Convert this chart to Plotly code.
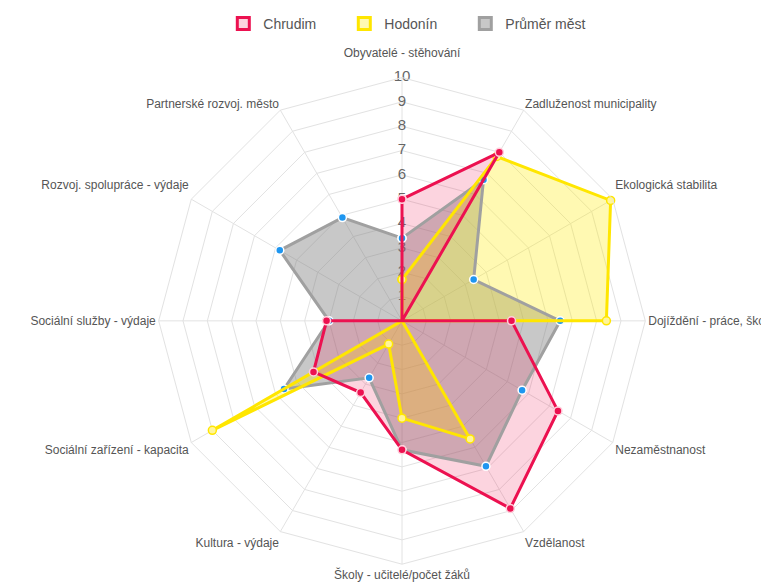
import plotly.graph_objects as go

categories = [
    "Obyvatelé - stěhování",
    "Zadluženost municipality",
    "Ekologická stabilita",
    "Dojíždění - práce, škola",
    "Nezaměstnanost",
    "Vzdělanost",
    "Školy - učitelé/počet žáků",
    "Kultura - výdaje",
    "Sociální zařízení - kapacita",
    "Sociální služby - výdaje",
    "Rozvoj. spolupráce - výdaje",
    "Partnerské rozvoj. město",
]
chrudim = [5.0, 8.0, 0.0, 4.5, 7.4, 8.9, 5.3, 3.4, 4.2, 3.1, 0.0, 0.0]
hodonin = [1.7, 7.8, 9.9, 8.4, 0.0, 5.6, 4.0, 1.1, 9.0, 0.0, 0.0, 0.0]
prumer = [3.4, 6.7, 3.4, 6.5, 5.7, 6.9, 5.3, 2.7, 5.6, 3.0, 5.8, 4.9]
tick_values = [1, 2, 3, 4, 5, 6, 7, 8, 9, 10]

series_names = ["Chrudim", "Hodonín", "Průměr měst"]
series_values = [chrudim, hodonin, prumer]
line_colors = ["#ec1150", "#ffe600", "#a0a0a0"]
fill_colors = ["rgba(236,17,79,0.18)", "rgba(255,235,0,0.3)", "rgba(128,128,128,0.43)"]
marker_fill = ["#ec1150", "#fff59a", "#1e96f0"]
marker_edge = ["#ffd0dc", "#ffe600", "#ffffff"]

FONT = "Liberation Sans, Arial, sans-serif"

def closed(v):
    return list(v) + [v[0]]

theta_c = closed(categories)

# upper labels get an extra empty line so they sit higher above the grid
tick_text = [c + "<br> " if i in (0, 2, 10) else c for i, c in enumerate(categories)]

fig = go.Figure()

# radial tick numbers along the top axis (drawn beneath the data)
fig.add_trace(go.Scatterpolar(
    r=tick_values, theta=[categories[0]] * len(tick_values),
    mode="text", text=[str(v) for v in tick_values],
    textfont=dict(family=FONT, size=15, color="#666666"),
    showlegend=False, hoverinfo="skip",
))

order = [2, 1, 0]  # bottom -> top
# fills first
for i in order:
    fig.add_trace(go.Scatterpolar(
        r=closed(series_values[i]), theta=theta_c, name=series_names[i],
        mode="lines", fill="toself", fillcolor=fill_colors[i],
        line=dict(width=0, color=line_colors[i]),
        showlegend=False, hoverinfo="skip",
    ))
# then lines and points
for i in order:
    fig.add_trace(go.Scatterpolar(
        r=closed(series_values[i]), theta=theta_c, name=series_names[i],
        mode="lines+markers",
        line=dict(color=line_colors[i], width=3),
        marker=dict(size=8, color=marker_fill[i], line=dict(color=marker_edge[i], width=1.5)),
        showlegend=False,
    ))

# legend entries as boxes (shapes placed off-canvas, shown only through the legend)
for n, lc, fc in zip(series_names, line_colors, fill_colors):
    fig.add_shape(
        type="rect", xref="paper", yref="paper", x0=-0.4, x1=-0.39, y0=-0.4, y1=-0.39,
        line=dict(color=lc, width=3), fillcolor=fc,
        showlegend=True, name=n,
    )

W, H = 769, 584
cx, cy, R = 394, 311, 245
fig.update_layout(
    width=W, height=H,
    margin=dict(l=0, r=0, t=0, b=0),
    paper_bgcolor="white",
    font=dict(family=FONT, color="#555555", size=12),
    legend=dict(
        orientation="h", x=0.516, xanchor="center", y=1 - 12 / H, yanchor="middle",
        font=dict(family=FONT, size=14, color="#555555"),
        entrywidth=76,
    ),
    polar=dict(
        domain=dict(x=[(cx - R) / W, (cx + R) / W], y=[1 - (cy + R) / H, 1 - (cy - R) / H]),
        bgcolor="white",
        gridshape="linear",
        radialaxis=dict(
            range=[0, 10], dtick=1, showticklabels=False, ticks="",
            showline=False, gridcolor="#e2e2e2", gridwidth=1,
        ),
        angularaxis=dict(
            direction="clockwise", rotation=90,
            gridcolor="#e2e2e2", linecolor="#e2e2e2", linewidth=1,
            ticks="", tickfont=dict(family=FONT, size=12, color="#555555"),
            tickmode="array", tickvals=categories, ticktext=tick_text,
        ),
    ),
)

fig.write_html("out.html")
